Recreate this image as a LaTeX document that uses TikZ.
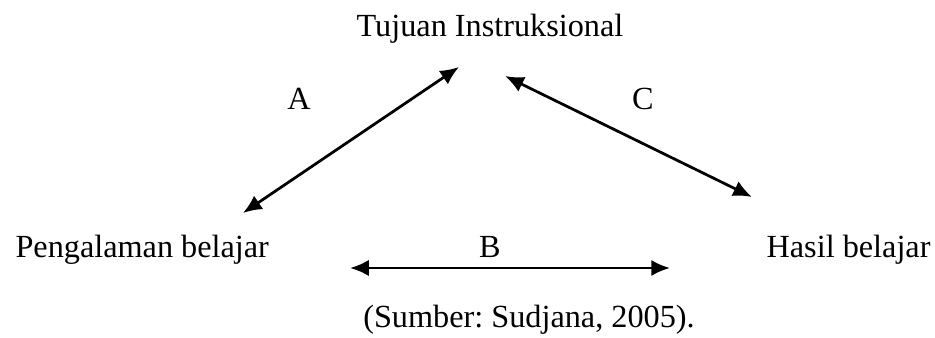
\documentclass[tikz,border=0pt]{standalone}
\usepackage{fontspec}
\setmainfont{Liberation Serif}
\usetikzlibrary{arrows.meta,positioning}

\begin{document}
\begin{tikzpicture}[x=0.4pt,y=-0.4pt,>={Latex[length=7.5pt,width=6.5pt]},
  lbl/.style={inner sep=0pt,anchor=base,font=\fontsize{12.9}{15}\selectfont}]

\useasboundingbox (0,0) rectangle (935,338);

\node (tujuan) [lbl] at (490,37) {Tujuan Instruksional};
\node (pengalaman) [lbl,anchor=base west] at (15,258) {Pengalaman belajar};
\node (hasil) [lbl,anchor=base east] at (931,258) {Hasil belajar};
\node (sumber) [lbl] at (529,328) {\frenchspacing(Sumber: Sudjana, 2005).};

\node (a) [lbl] at (299,110) {A};
\node (c) [lbl] at (643,110) {C};
\node (b) [lbl] at (490,258) {B};

% ujung panah
\coordinate (a1) at (243,213);
\coordinate (a2) at (459,67);
\coordinate (c1) at (505,76);
\coordinate (c2) at (752,197);
\coordinate (b1) at (350,268);
\coordinate (b2) at (670,268);

\draw[<->,line width=1.1pt] (a1) -- (a2);
\draw[<->,line width=1.1pt] (c1) -- (c2);
\draw[<->,line width=1.1pt] (b1) -- (b2);

\end{tikzpicture}
\end{document}
